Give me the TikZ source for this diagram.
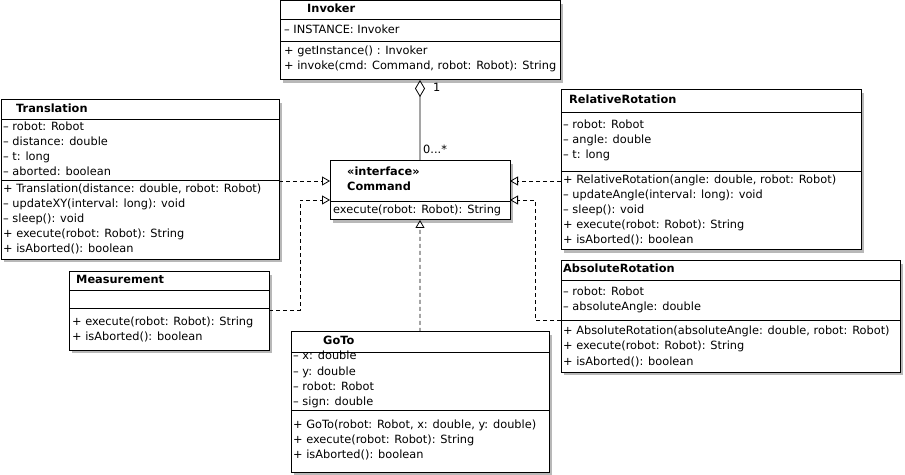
\documentclass[tikz,border=0pt]{standalone}
\usepackage{fontspec}
\setmainfont{DejaVu Sans}
\usetikzlibrary{arrows.meta,shadows}
\begin{document}
\begin{tikzpicture}[x=1bp,y=-1bp,
  cls/.style={draw,fill=white,line width=1bp,inner sep=0,outer sep=0,anchor=north west,
    drop shadow={shadow xshift=3bp,shadow yshift=-3bp,fill=black!28,opacity=1}},
  sepline/.style={line width=0.9bp},
  txt/.style={anchor=west,inner sep=0,text height=8.5bp,text depth=2.5bp,font=\fontsize{11.4}{13}\selectfont},
  ttl/.style={txt,font=\fontsize{11.4}{13}\selectfont\bfseries},
  realize/.style={dash pattern=on 4bp off 3bp,line width=0.8bp,-{Triangle[open,length=8bp,width=9bp]}},
  agg/.style={line width=0.8bp,{Diamond[open,length=17bp,width=10bp]}-},
]
\useasboundingbox (0,0) rectangle (905,475);

% ---------- boxes ----------
\node[cls,minimum width=280bp,minimum height=79bp] (inv) at (280,1) {};
\node[cls,minimum width=278bp,minimum height=159bp] (trans) at (1,100) {};
\node[cls,minimum width=200bp,minimum height=78bp] (meas) at (69,272) {};
\node[cls,minimum width=180bp,minimum height=59bp] (cmd) at (330,161) {};
\node[cls,minimum width=300bp,minimum height=160bp] (rel) at (561,90) {};
\node[cls,minimum width=339bp,minimum height=111bp] (abs) at (561,261) {};
\node[cls,minimum width=258bp,minimum height=140bp] (goto) at (291,332) {};

% ---------- compartment separators ----------
\foreach \b/\ya/\yb in {inv/19/41, trans/119/180, meas/290/308, cmd/201/201, rel/112/171, abs/280/320, goto/352/410}{
  \draw[sepline] (\b.west |- 0,\ya) -- (\b.east |- 0,\ya);
  \draw[sepline] (\b.west |- 0,\yb) -- (\b.east |- 0,\yb);
}

% ---------- Invoker ----------
\node[ttl] (inv-t) at (307,10) {Invoker};
\node[txt] (inv-a) at (284,31) {-- INSTANCE: Invoker};
\foreach \s [count=\i from 0] in {{+ getInstance() : Invoker},{+ invoke(cmd: Command, robot: Robot): String}}
  \node[txt] (inv-m\i) at (284,52+15*\i) {\s};

% ---------- Command ----------
\node[ttl] (cmd-s) at (347,173) {«interface»};
\node[ttl] (cmd-t) at (347,188) {Command};
\node[txt] (cmd-m) at (333,211) {execute(robot: Robot): String};

% ---------- Translation ----------
\node[ttl] (trans-t) at (16,110) {Translation};
\foreach \s [count=\i from 0] in {{-- robot: Robot},{-- distance: double},{-- t: long},{-- aborted: boolean}}
  \node[txt] (trans-a\i) at (3,128+15*\i) {\s};
\foreach \s [count=\i from 0] in {{+ Translation(distance: double, robot: Robot)},{-- updateXY(interval: long): void},{-- sleep(): void},{+ execute(robot: Robot): String},{+ isAborted(): boolean}}
  \node[txt] (trans-m\i) at (3,190+15*\i) {\s};

% ---------- Measurement ----------
\node[ttl] (meas-t) at (76,281) {Measurement};
\foreach \s [count=\i from 0] in {{+ execute(robot: Robot): String},{+ isAborted(): boolean}}
  \node[txt] (meas-m\i) at (72,323+15*\i) {\s};

% ---------- RelativeRotation ----------
\node[ttl] (rel-t) at (569,101) {RelativeRotation};
\foreach \s [count=\i from 0] in {{-- robot: Robot},{-- angle: double},{-- t: long}}
  \node[txt] (rel-a\i) at (563,126+15*\i) {\s};
\foreach \s [count=\i from 0] in {{+ RelativeRotation(angle: double, robot: Robot)},{-- updateAngle(interval: long): void},{-- sleep(): void},{+ execute(robot: Robot): String},{+ isAborted(): boolean}}
  \node[txt] (rel-m\i) at (563,181+15*\i) {\s};

% ---------- AbsoluteRotation ----------
\node[ttl] (abs-t) at (563,270) {AbsoluteRotation};
\foreach \s [count=\i from 0] in {{-- robot: Robot},{-- absoluteAngle: double}}
  \node[txt] (abs-a\i) at (563,293+15*\i) {\s};
\foreach \s [count=\i from 0] in {{+ AbsoluteRotation(absoluteAngle: double, robot: Robot)},{+ execute(robot: Robot): String},{+ isAborted(): boolean}}
  \node[txt] (abs-m\i) at (563,332+15*\i) {\s};

% ---------- GoTo ----------
\node[ttl] (goto-t) at (323,342) {GoTo};
\foreach \s [count=\i from 0] in {{-- x: double},{-- y: double},{-- robot: Robot},{-- sign: double}}
  \node[txt] (goto-a\i) at (293,357+15*\i) {\s};
\foreach \s [count=\i from 0] in {{+ GoTo(robot: Robot, x: double, y: double)},{+ execute(robot: Robot): String},{+ isAborted(): boolean}}
  \node[txt] (goto-m\i) at (293,425+15*\i) {\s};

% ---------- connectors ----------
\draw[agg] (inv.south) -- (cmd.north);
\node[txt] (mult1) at (433,89) {1};
\node[txt] (mult2) at (423,151) {0...*};

\draw[realize] (trans.east |- 0,181) -- (cmd.west |- 0,181);
\coordinate (mbend) at (300,200);
\draw[realize] (meas.east |- 0,310) -| (mbend) -- (cmd.west |- mbend);
\draw[realize] (rel.west |- 0,181) -- (cmd.east |- 0,181);
\coordinate (abend) at (535,200);
\draw[realize] (abs.west |- 0,320) -| (abend) -- (cmd.east |- abend);
\draw[realize] (goto.north) -- (cmd.south);
\end{tikzpicture}
\end{document}
